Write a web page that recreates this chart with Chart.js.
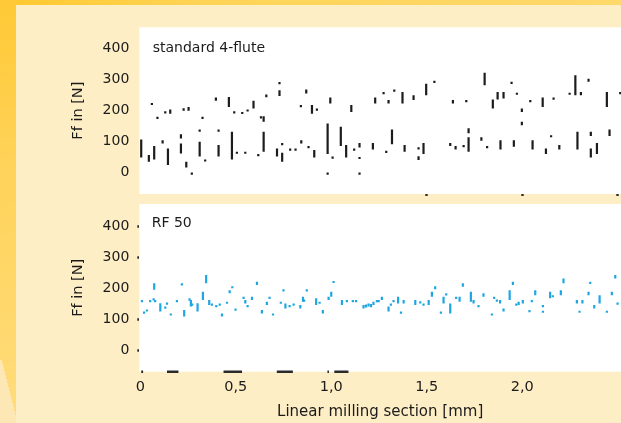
<!DOCTYPE html>
<html>
<head>
<meta charset="utf-8">
<script src="https://cdn.jsdelivr.net/npm/chart.js@4.4.1/dist/chart.umd.min.js"></script>
<style>
  html, body { margin: 0; padding: 0; }
  body {
    width: 621px; height: 423px; overflow: hidden; position: relative;
    background: linear-gradient(100deg, #ffc82e 0%, #ffd457 30%, #ffd96f 100%);
  }
  #edge {
    position: absolute; left: 0; top: 0; width: 16px; height: 423px;
    background: linear-gradient(175deg, #ffc935 0%, #ffd35a 40%, #ffd970 80%, #ffdc80 100%);
  }
  #edgeFoot {
    position: absolute; left: 0; top: 360px; width: 16px; height: 63px;
    background: linear-gradient(to top right, #fde7b4 0 55%, rgba(0,0,0,0) 55%);
  }
  #sheet { position: absolute; left: 16px; top: 5px; right: 0; bottom: 0; background: #feeec5; }
  .plot { position: absolute; left: 60px; width: 561px; }
  #topPlot { top: 0; height: 200px; }
  #bottomPlot { top: 200px; height: 223px; }
</style>
</head>
<body>
<div id="edge"></div>
<div id="edgeFoot"></div>
<div id="sheet"></div>
<div class="plot" id="topPlot"><canvas id="standardChart"></canvas></div>
<div class="plot" id="bottomPlot"><canvas id="rfChart"></canvas></div>
<script>
// Feed force Ff [N] along the linear milling section [mm].
// Each entry: [section in mm, lowest force, highest force] of one sampled burst.
const standardMarks = [
  [0.061,225,225],[0.090,180,180],[0.131,198,198],[0.157,190,204],[0.227,200,208],
  [0.253,200,212],[0.326,180,180],[0.396,232,242],[0.464,212,244],[0.492,198,198],
  [0.534,196,196],[0.562,204,204],[0.593,207,232],[0.632,182,182],[0.660,243,252],
  [0.729,247,266],[0.729,292,292],[0.841,218,218],[0.869,255,268],[0.899,190,218],
  [0.925,207,207],[0.995,223,242],[1.105,196,218],[1.230,223,242],[1.274,260,260],
  [1.300,223,234],[1.330,268,268],[1.373,223,260],[1.431,234,250],[1.497,250,287],
  [1.540,296,296],[1.637,223,234],[1.707,234,234],[1.803,282,322],[1.846,207,236],
  [1.871,236,260],[1.902,239,260],[1.944,293,293],[1.972,258,258],[1.998,196,207],
  [1.998,153,164],[2.042,234,234],[2.107,212,242],[2.164,242,242],[2.248,258,258],
  [2.278,250,314],[2.307,250,260],[2.347,293,303],[2.443,212,260],[2.513,260,260],
  [0.005,49,107],[0.045,35,57],[0.073,43,86],[0.117,94,105],[0.145,25,78],
  [0.213,110,124],[0.213,62,94],[0.241,17,35],[0.270,1,1],[0.311,132,139],
  [0.311,52,100],[0.340,43,43],[0.410,139,139],[0.410,52,89],[0.480,43,132],
  [0.506,68,68],[0.550,68,68],[0.618,60,60],[0.646,164,182],[0.646,68,132],
  [0.716,52,78],[0.743,96,96],[0.743,35,64],[0.785,78,78],[0.813,78,78],
  [0.843,94,105],[0.881,86,86],[0.911,49,73],[0.981,60,159],[0.981,1,1],
  [1.007,52,52],[1.050,86,148],[1.078,49,89],[1.120,78,78],[1.148,81,96],
  [1.148,51,51],[1.148,1,1],[1.218,75,96],[1.288,71,71],[1.318,92,139],
  [1.384,68,89],[1.457,41,53],[1.457,82,82],[1.483,60,96],[1.623,86,96],
  [1.651,75,86],[1.693,89,89],[1.719,127,143],[1.719,68,114],[1.786,103,114],
  [1.816,86,86],[1.886,75,105],[1.956,84,105],[2.054,75,105],[2.124,60,78],
  [2.151,121,121],[2.194,75,89],[2.289,75,132],[2.359,118,132],[2.359,49,78],
  [2.391,60,96],[2.457,118,139]
];

const rfMarks = [
  [0.009,161,161],[0.020,124,124],[0.035,131,131],[0.052,161,161],[0.070,167,167],
  [0.073,194,215],[0.078,161,161],[0.105,124,151],[0.131,140,140],[0.140,153,153],
  [0.160,118,118],[0.192,161,161],[0.218,215,215],[0.230,108,129],[0.258,159,167],
  [0.265,140,161],[0.272,150,150],[0.300,124,151],[0.328,161,188],[0.345,215,242],
  [0.361,145,161],[0.375,150,150],[0.398,145,145],[0.416,150,150],[0.428,108,118],
  [0.454,156,156],[0.468,183,193],[0.482,206,206],[0.499,134,134],[0.541,172,172],
  [0.550,150,161],[0.562,145,145],[0.585,161,172],[0.611,210,220],[0.637,118,129],
  [0.663,145,156],[0.677,172,172],[0.695,118,118],[0.736,156,156],[0.750,196,196],
  [0.760,134,150],[0.782,145,145],[0.803,150,150],[0.838,134,145],[0.852,156,172],
  [0.858,163,163],[0.872,196,196],[0.921,145,167],[0.939,156,156],[0.956,118,129],
  [0.986,161,172],[1.000,172,188],[1.012,223,223],[1.056,145,161],[1.082,161,161],
  [1.113,161,161],[1.130,161,161],[1.169,134,145],[1.182,137,147],[1.195,140,150],
  [1.208,138,148],[1.221,145,156],[1.239,161,161],[1.248,161,161],[1.265,161,172],
  [1.300,124,140],[1.312,150,150],[1.326,161,161],[1.350,150,172],[1.365,124,124],
  [1.379,150,161],[1.440,145,161],[1.466,150,156],[1.483,150,150],[1.510,145,161],
  [1.527,172,188],[1.544,196,206],[1.574,124,124],[1.588,150,172],[1.602,183,183],
  [1.623,118,150],[1.654,172,172],[1.672,156,172],[1.689,204,215],[1.731,156,188],
  [1.745,150,161],[1.771,145,145],[1.797,172,183],[1.841,118,118],[1.853,172,172],
  [1.867,163,163],[1.884,150,161],[1.902,124,134],[1.934,161,193],[1.951,210,220],
  [1.969,150,150],[1.981,145,156],[2.003,150,161],[2.038,129,129],[2.050,161,161],
  [2.068,177,193],[2.108,145,145],[2.108,127,127],[2.146,167,188],[2.160,177,177],
  [2.202,177,193],[2.216,215,231],[2.286,150,161],[2.300,127,127],[2.315,150,161],
  [2.347,177,188],[2.356,220,220],[2.377,134,145],[2.405,150,177],[2.443,127,127],
  [2.469,177,188],[2.487,231,242],[2.499,153,153]
];

// Short dark runs on the lower edge of the RF 50 panel: [from mm, to mm]
const rfEdgeRuns = [[0.005,0.015],[0.14,0.20],[0.436,0.533],[0.715,0.799],[0.980,0.988],[1.016,1.090]];

const panelNames = ['standard 4-flute', 'RF 50'];
const forceTicks = [0, 100, 200, 300, 400];
const sectionTicks = [0, 0.5, 1.0, 1.5, 2.0];
const standardEdgeTicks = [1.5, 2.0, 2.5];
const rfUnmarkedTick = 200;

const sectionRange = [-0.005, 2.517];
const standardRange = [-68.5, 468.5];
const rfRange = [-70, 471];

const INK = '#1b1b1b';
const FONT = 'DejaVu Sans';
const MARK_WIDTH = 2.2;

const panelFrame = {
  id: 'panelFrame',
  beforeDraw(chart) {
    const { ctx, chartArea: a } = chart;
    ctx.save();
    ctx.fillStyle = '#ffffff';
    ctx.fillRect(a.left, a.top, a.right - a.left, a.bottom - a.top);
    ctx.restore();
  },
  afterDraw(chart, args, opts) {
    const { ctx, chartArea: a, scales } = chart;
    ctx.save();
    ctx.font = opts.size + 'px "' + FONT + '"';
    ctx.fillStyle = INK;
    ctx.textAlign = 'left';
    ctx.textBaseline = 'middle';
    ctx.fillText(opts.text, a.left + opts.inset, scales.y.getPixelForValue(400) + opts.shift);
    ctx.restore();
  }
};

const toBars = (marks) => marks.map(([x, lo, hi]) => ({ x: x, y: [lo, hi] }));
const fmtSection = (v) => (v === 0 ? '0' : v.toFixed(1).replace('.', ','));

// fixed axis boxes so both panels line up
function lockVertical(width) {
  return (s) => { s.width = width; s.paddingTop = 0; s.paddingBottom = 0; };
}
function lockHorizontal(height) {
  return (s) => { s.height = height; s.paddingLeft = 0; s.paddingRight = 0; };
}

function forceAxis(range, withMarks, titlePad) {
  return {
    type: 'linear', min: range[0], max: range[1],
    afterBuildTicks: (ax) => { ax.ticks = forceTicks.map((v) => ({ value: v })); },
    afterFit: lockVertical(79.3),
    ticks: { color: INK, font: { family: FONT, size: 14 }, padding: withMarks ? 8 : 10 },
    grid: withMarks
      ? { display: true, drawOnChartArea: false, drawTicks: true, tickLength: 2, tickWidth: 2.4,
          tickColor: (c) => (c.tick && c.tick.value === rfUnmarkedTick ? 'rgba(0,0,0,0)' : '#2a2a2a') }
      : { display: false, drawTicks: false },
    border: { display: false },
    title: { display: true, text: 'Ff in [N]', color: INK, font: { family: FONT, size: 14.5 },
             padding: { top: titlePad, bottom: 0 } }
  };
}

const markStyle = {
  borderWidth: 0,
  barThickness: MARK_WIDTH,
  minBarLength: 2.2,
  inflateAmount: 0
};

new Chart(document.getElementById('standardChart'), {
  type: 'bar',
  data: {
    datasets: [Object.assign({
      label: panelNames[0],
      data: toBars(standardMarks),
      backgroundColor: '#1c1c1c'
    }, markStyle)]
  },
  options: {
    responsive: true, maintainAspectRatio: false, animation: false,
    layout: { padding: { top: 27.3, right: 0, bottom: 0, left: 0 } },
    plugins: {
      legend: { display: false }, tooltip: { enabled: false },
      panelFrame: { text: panelNames[0], size: 14, inset: 13.4, shift: 0 }
    },
    scales: {
      x: {
        type: 'linear', min: sectionRange[0], max: sectionRange[1], offset: false,
        afterBuildTicks: (ax) => { ax.ticks = standardEdgeTicks.map((v) => ({ value: v })); },
        afterFit: lockHorizontal(6),
        ticks: { display: false },
        grid: { display: true, offset: false, drawOnChartArea: false, drawTicks: true, tickLength: 2,
                tickWidth: 2.4, tickColor: '#2a2a2a' },
        border: { display: false }
      },
      y: forceAxis(standardRange, false, 9.3)
    }
  },
  plugins: [panelFrame]
});

const edgeLine = [];
rfEdgeRuns.forEach(([a, b]) => {
  edgeLine.push({ x: a, y: rfRange[0] }, { x: b, y: rfRange[0] }, { x: b, y: null });
});

new Chart(document.getElementById('rfChart'), {
  type: 'bar',
  data: {
    datasets: [Object.assign({
      label: panelNames[1],
      data: toBars(rfMarks),
      backgroundColor: '#1ea6e2'
    }, markStyle), {
      type: 'line',
      label: 'edge',
      data: edgeLine,
      borderColor: '#2a2a2a',
      borderWidth: 2.6,
      pointRadius: 0,
      spanGaps: false,
      clip: false
    }]
  },
  options: {
    responsive: true, maintainAspectRatio: false, animation: false,
    layout: { padding: { top: 4, right: 0, bottom: 0, left: 0 } },
    plugins: {
      legend: { display: false }, tooltip: { enabled: false },
      panelFrame: { text: panelNames[1], size: 14, inset: 12.4, shift: -2.7 }
    },
    scales: {
      x: {
        type: 'linear', min: sectionRange[0], max: sectionRange[1], offset: false,
        afterBuildTicks: (ax) => { ax.ticks = sectionTicks.map((v) => ({ value: v })); },
        afterFit: lockHorizontal(51.3),
        ticks: { color: INK, font: { family: FONT, size: 14.5 }, padding: 7, maxRotation: 0,
                 autoSkip: false, callback: (v) => fmtSection(v) },
        grid: { display: false, drawTicks: false, offset: false },
        border: { display: false },
        title: { display: true, text: 'Linear milling section [mm]', color: INK,
                 font: { family: FONT, size: 15 }, padding: { top: 0, bottom: 2.3 } }
      },
      y: forceAxis(rfRange, true, 9.3)
    }
  },
  plugins: [panelFrame]
});
</script>
</body>
</html>
